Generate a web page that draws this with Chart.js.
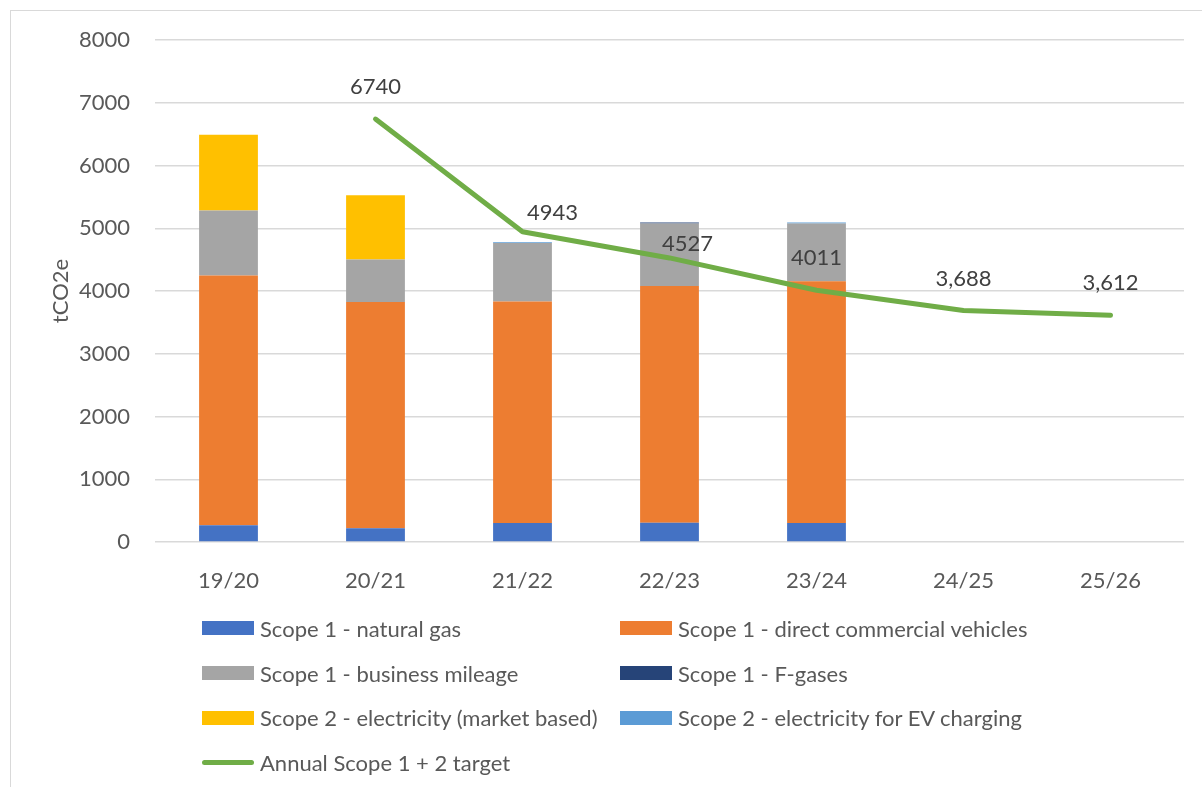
<!DOCTYPE html>
<html>
<head>
<meta charset="utf-8">
<script src="https://cdn.jsdelivr.net/npm/chart.js@4.4.1/dist/chart.umd.min.js"></script>
<style>
    html, body { margin: 0; padding: 0; background: #fff; }
    body { width: 1202px; height: 787px; position: relative; overflow: hidden; font-family: Lato, "Open Sans", sans-serif; }
    .frame { position: absolute; left: 10px; top: 10px; width: 1300px; height: 900px; border: 1px solid #d9d9d9; box-sizing: border-box; }
    #wrap { position: absolute; left: 0; top: 0; width: 1202px; height: 787px; }
    #legend { position: absolute; left: 202px; top: 606px; display: grid; grid-template-columns: 418px 420px; grid-auto-rows: 44.7px; }
    .leg-item { display: flex; align-items: center; color: #595959; font-size: 22px; white-space: nowrap; }
    .leg-box { width: 52px; height: 14px; margin-right: 6px; flex: none; }
    .leg-line { width: 52px; height: 5px; border-radius: 3px; margin-right: 6px; flex: none; }
</style>
</head>
<body>
<div class="frame"></div>
<div id="wrap"><canvas id="chart"></canvas></div>
<div id="legend"></div>

<script>
// Financial years
const years = ['19/20', '20/21', '21/22', '22/23', '23/24', '24/25', '25/26'];

// Emissions by source, tCO2e (reported years only)
const naturalGas = [266, 218, 303, 308, 303, null, null];
const commercialVehicles = [3981, 3608, 3530, 3773, 3853, null, null];
const businessMileage = [1035, 675, 930, 995, 920, null, null];
const fGases = [0, 0, 0, 15, 0, null, null];
const electricity = [1210, 1024, 0, 0, 0, null, null];
const evCharging = [0, 0, 12, 0, 15, null, null];

// Annual Scope 1 + 2 target
const target = [null, 6740, 4943, 4527, 4011, 3688, 3612];
const targetUsesComma = [false, false, false, false, false, true, true];

// y axis
const yTicks = [0, 1000, 2000, 3000, 4000, 5000, 6000, 7000, 8000];

// where each target label sits relative to its point
const labelShift = [[0, 0], [0, -32], [30, -19], [18, -14], [0, -32], [0, -32], [0, -32]];

const FONT = 'Lato, "Open Sans", sans-serif';

const barSet = (label, data, color) => ({
    type: 'bar', label: label, data: data, backgroundColor: color,
    borderWidth: 0, stack: 'sources',
    categoryPercentage: 0.4, barPercentage: 1, order: 2
});

const datasets = [
    barSet('Scope 1 - natural gas', naturalGas, '#4472C4'),
    barSet('Scope 1 - direct commercial vehicles', commercialVehicles, '#ED7D31'),
    barSet('Scope 1 - business mileage', businessMileage, '#A5A5A5'),
    barSet('Scope 1 - F-gases', fGases, '#264478'),
    barSet('Scope 2 - electricity (market based)', electricity, '#FFC000'),
    barSet('Scope 2 - electricity for EV charging', evCharging, '#5B9BD5'),
    {
        type: 'line', label: 'Annual Scope 1 + 2 target', data: target,
        borderColor: '#70AD47', backgroundColor: '#70AD47', borderWidth: 5,
        borderCapStyle: 'round', borderJoinStyle: 'round',
        pointRadius: 0, tension: 0, stack: 'target', order: 1
    }
];

// value labels over the target line
const targetLabels = {
    id: 'targetLabels',
    afterDatasetsDraw(chart) {
        const idx = chart.data.datasets.length - 1;
        const meta = chart.getDatasetMeta(idx);
        const ctx = chart.ctx;
        ctx.save();
        ctx.font = '22px ' + FONT;
        ctx.fillStyle = '#404040';
        ctx.textAlign = 'center';
        ctx.textBaseline = 'middle';
        target.forEach((v, i) => {
            if (v == null) return;
            const pt = meta.data[i];
            const txt = targetUsesComma[i] ? v.toLocaleString('en-US') : String(v);
            ctx.fillText(txt, pt.x + labelShift[i][0], pt.y + labelShift[i][1]);
        });
        ctx.restore();
    }
};

const chart = new Chart(document.getElementById('chart'), {
    data: { labels: years, datasets: datasets },
    options: {
        responsive: true,
        maintainAspectRatio: false,
        animation: false,
        layout: { padding: { left: 0, right: 18, top: 40, bottom: 185 } },
        plugins: {
            legend: { display: false },
            tooltip: { enabled: false }
        },
        scales: {
            x: {
                stacked: true,
                grid: { display: false },
                border: { display: false },
                ticks: { color: '#595959', font: { family: FONT, size: 22 }, padding: 18 },
                afterFit: s => { s.height = 60; }
            },
            y: {
                stacked: true,
                min: 0, max: 8000,
                afterBuildTicks: s => { s.ticks = yTicks.map(v => ({ value: v })); },
                grid: { color: '#d9d9d9', lineWidth: 1.5, drawTicks: false },
                border: { display: false },
                ticks: { color: '#595959', font: { family: FONT, size: 22 }, padding: 25, callback: v => String(v) },
                title: {
                    display: true, text: 'tCO2e', color: '#595959',
                    font: { family: FONT, size: 22 }, padding: { top: 48, bottom: 0 }
                },
                afterFit: s => { s.width = 155; }
            }
        }
    },
    plugins: [targetLabels]
});

// two-column legend built from the datasets
const legendEl = document.getElementById('legend');
const legendOrder = [0, 1, 2, 3, 4, 5, 6];
legendEl.innerHTML = legendOrder.map(i => {
    const d = chart.data.datasets[i];
    const mark = d.type === 'line'
        ? `<span class="leg-line" style="background:${d.borderColor}"></span>`
        : `<span class="leg-box" style="background:${d.backgroundColor}"></span>`;
    return `<div class="leg-item">${mark}<span>${d.label}</span></div>`;
}).join('');
</script>
</body>
</html>
